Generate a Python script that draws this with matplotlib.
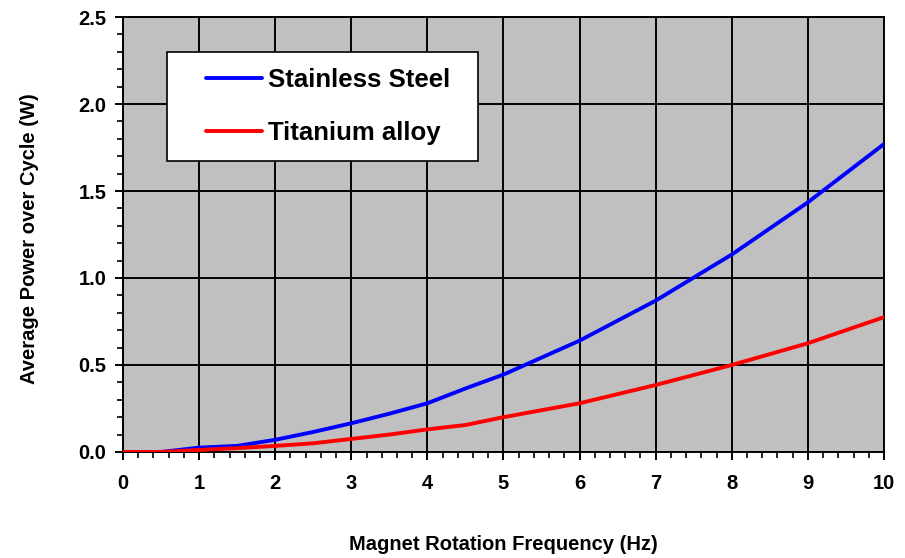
import matplotlib
matplotlib.use("Agg")
import matplotlib.pyplot as plt
from matplotlib.lines import Line2D
from matplotlib.legend_handler import HandlerLine2D
from matplotlib.ticker import MultipleLocator, FormatStrFormatter

plt.rcParams['font.family'] = ['Liberation Sans', 'DejaVu Sans']
plt.rcParams['font.weight'] = 'bold'

# Average power over one cycle versus magnet rotation frequency
freq_hz = [0, 0.5, 1, 1.5, 2, 2.5, 3, 3.5, 4, 4.5, 5, 6, 7, 8, 9, 10]
stainless_steel_w = [0, 0, 0.025, 0.035, 0.07, 0.115, 0.165, 0.22, 0.28, 0.365,
                     0.445, 0.64, 0.87, 1.135, 1.435, 1.77]
titanium_alloy_w = [0, 0, 0.012, 0.022, 0.035, 0.05, 0.075, 0.1, 0.13, 0.155,
                    0.2, 0.28, 0.385, 0.5, 0.625, 0.775]

fig = plt.figure(figsize=(9.05, 5.58), dpi=100)
ax = fig.add_axes([0.1359, 0.19, 0.8409, 0.7795])
ax.set_facecolor('#C0C0C0')

ax.plot(freq_hz, stainless_steel_w, color='#0000FF', lw=2.8, label='Stainless Steel',
        solid_capstyle='round', zorder=3)
ax.plot(freq_hz, titanium_alloy_w, color='#FF0000', lw=2.8, label='Titanium alloy',
        solid_capstyle='round', zorder=3)

ax.set_xlim(0, 10)
ax.set_ylim(0, 2.5)
ax.xaxis.set_major_locator(MultipleLocator(1))
ax.xaxis.set_minor_locator(MultipleLocator(0.2))
ax.yaxis.set_major_locator(MultipleLocator(0.5))
ax.yaxis.set_minor_locator(MultipleLocator(0.1))
ax.yaxis.set_major_formatter(FormatStrFormatter('%.1f'))

ax.grid(True, which='major', color='black', lw=1.4, zorder=1)
ax.set_axisbelow(True)
for s in ax.spines.values():
    s.set_color('black')
    s.set_linewidth(1.4)

ax.tick_params(which='major', direction='out', length=6, width=1.4, labelsize=14.5)
ax.tick_params(axis='x', which='major', pad=10)
ax.tick_params(axis='y', which='major', pad=6)
ax.tick_params(which='minor', direction='out', length=4, width=1.2)
for lab in ax.get_xticklabels() + ax.get_yticklabels():
    lab.set_fontweight('bold')

ax.set_xlabel('Magnet Rotation Frequency (Hz)', fontsize=14.5, fontweight='bold')
ax.xaxis.set_label_coords(0.5, -0.19)
ax.set_ylabel('Average Power over Cycle (W)', fontsize=14.5, fontweight='bold')
ax.yaxis.set_label_coords(-0.110, 0.49)

# Legend: short line handles set in from the left edge of the box
leg_fs = 18.5
leg = ax.legend(loc='center', bbox_to_anchor=(0.0578, 0.669, 0.4087, 0.2506), mode='expand',
                fancybox=False, framealpha=1, edgecolor='black',
                handlelength=3.09, handletextpad=0.23, labelspacing=1.16,
                borderpad=0.61, borderaxespad=0,
                handler_map={Line2D: HandlerLine2D(xpad=0.91)},
                prop={'size': leg_fs, 'weight': 'bold'})
leg.get_frame().set_linewidth(1.2)
leg.set_zorder(5)

fig.savefig('out.png', dpi=100)
